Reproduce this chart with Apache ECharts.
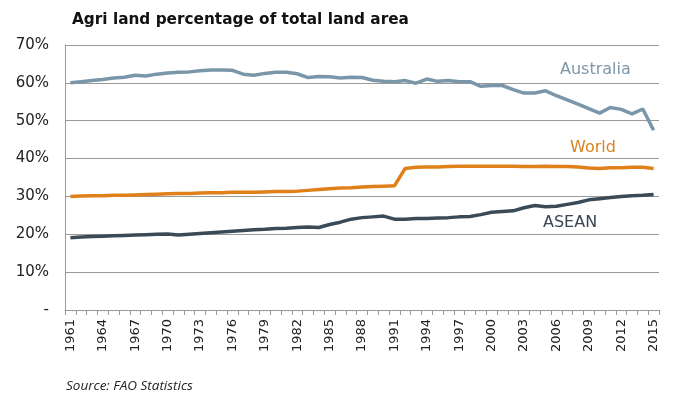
<!DOCTYPE html>
<html>
<head>
<meta charset="utf-8">
<script src="https://cdn.jsdelivr.net/npm/echarts@6/dist/echarts.min.js"></script>
<style>
  html, body { margin: 0; padding: 0; background: #fff; }
  #chart { width: 680px; height: 396px; }
</style>
</head>
<body>
<div id="chart"></div>
<script>
const years = [];
for (let y = 1961; y <= 2015; y++) years.push(String(y));

const australia = [
  60.0, 60.3, 60.6, 60.9, 61.3, 61.5, 62.0, 61.8, 62.3, 62.6,
  62.8, 62.9, 63.2, 63.4, 63.4, 63.3, 62.3, 62.0, 62.5, 62.8,
  62.8, 62.4, 61.4, 61.7, 61.6, 61.3, 61.5, 61.4, 60.7, 60.4,
  60.3, 60.6, 59.9, 61.0, 60.4, 60.6, 60.3, 60.3, 59.1, 59.3,
  59.3, 58.2, 57.3, 57.3, 57.9, 56.6, 55.5, 54.4, 53.2, 52.0,
  53.5, 53.0, 51.8, 53.1, 47.5
];

const world = [
  30.0, 30.1, 30.2, 30.2, 30.3, 30.3, 30.4, 30.5, 30.6, 30.7,
  30.8, 30.8, 30.9, 31.0, 31.0, 31.1, 31.1, 31.1, 31.2, 31.3,
  31.3, 31.4, 31.6, 31.8, 32.0, 32.2, 32.3, 32.5, 32.6, 32.7,
  32.8, 37.4, 37.7, 37.8, 37.8, 37.9, 38.0, 38.0, 38.0, 38.0,
  38.0, 38.0, 37.9, 37.9, 38.0, 37.9, 37.9, 37.8, 37.5, 37.4,
  37.6, 37.6, 37.7, 37.7, 37.4
];

const asean = [
  19.1, 19.3, 19.4, 19.5, 19.6, 19.7, 19.8, 19.9, 20.0, 20.1,
  19.8, 20.0, 20.2, 20.4, 20.6, 20.8, 21.0, 21.2, 21.3, 21.5,
  21.6, 21.8, 21.9, 21.8, 22.6, 23.2, 24.0, 24.4, 24.6, 24.8,
  24.0, 24.0, 24.2, 24.2, 24.3, 24.4, 24.6, 24.7, 25.2, 25.8,
  26.0, 26.2, 27.0, 27.6, 27.3, 27.4, 27.9, 28.4, 29.1, 29.4,
  29.7, 30.0, 30.2, 30.3, 30.5
];

const seriesNames = ['Australia', 'World', 'ASEAN'];
const seriesColors = ['#7a96a9', '#e0801a', '#3b4a57'];
const labelColors = ['#7f97a8', '#d9821f', '#3a4652'];

const chart = echarts.init(document.getElementById('chart'), null, { renderer: 'canvas' });

const font = 'DejaVu Sans, Verdana, sans-serif';

chart.setOption({
  animation: false,
  title: [
    {
      text: 'Agri land percentage of total land area',
      left: 67, top: 8,
      textStyle: { fontFamily: font, fontWeight: 'bold', fontSize: 15.3, color: '#111' }
    },
    {
      text: 'Source: FAO Statistics',
      left: 61, top: 374,
      textStyle: { fontFamily: 'Open Sans, sans-serif', fontStyle: 'italic', fontWeight: 'normal', fontSize: 13.5, color: '#222' }
    }
  ],
  grid: { left: 65, right: 21, top: 45, bottom: 86 },
  xAxis: {
    type: 'category',
    data: years,
    boundaryGap: true,
    axisLine: { lineStyle: { color: '#999', width: 1 } },
    axisTick: { show: true, interval: 0, length: 5, lineStyle: { color: '#999' } },
    axisLabel: {
      interval: 2,
      rotate: 90,
      margin: 9,
      fontFamily: font,
      fontSize: 13,
      color: '#222'
    }
  },
  yAxis: {
    type: 'value',
    min: 0,
    max: 70,
    interval: 10,
    axisLine: { show: true, lineStyle: { color: '#999' } },
    axisTick: { show: false },
    splitLine: { lineStyle: { color: '#9a9a9a', width: 1 } },
    axisLabel: {
      margin: 16,
      fontFamily: font,
      fontSize: 15,
      color: '#222',
      formatter: (v) => v === 0 ? '-' : v + '%'
    }
  },
  series: [australia, world, asean].map((data, i) => ({
    name: seriesNames[i],
    type: 'line',
    data,
    symbol: 'none',
    smooth: false,
    lineStyle: { width: 3.5, color: seriesColors[i] },
    itemStyle: { color: seriesColors[i] },
    z: 3 - i
  })),
  graphic: [
    { type: 'text', left: 560, top: 62, style: { text: 'Australia', fontFamily: font, fontSize: 16, fill: labelColors[0] } },
    { type: 'text', left: 570, top: 140, style: { text: 'World', fontFamily: font, fontSize: 16, fill: labelColors[1] } },
    { type: 'text', left: 543, top: 215, style: { text: 'ASEAN', fontFamily: font, fontSize: 16, fill: labelColors[2] } }
  ]
});
</script>
</body>
</html>
